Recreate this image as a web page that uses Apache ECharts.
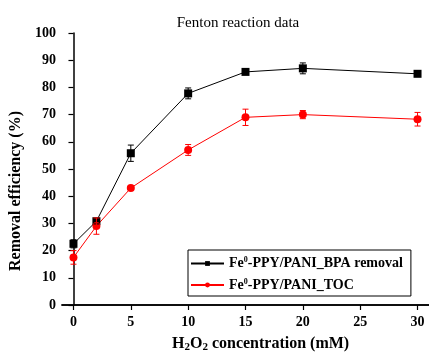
<!DOCTYPE html>
<html>
<head>
<meta charset="utf-8">
<script src="https://cdn.jsdelivr.net/npm/echarts@6/dist/echarts.min.js"></script>
<style>
  html, body { margin: 0; padding: 0; background: #fff; }
  #chart { width: 429px; height: 354px; }
</style>
</head>
<body>
<div id="chart"></div>
<script>
// H2O2 dose (mM) and removal efficiencies (%) with their error half-widths
const doses = [0, 2, 5, 10, 15, 20, 30];
const bpaRemoval = [22.5, 30.8, 55.8, 77.8, 85.7, 87.0, 85.0];
const bpaError = [1.5, 1.0, 3.0, 2.0, 0.6, 2.0, 0.6];
const tocRemoval = [17.5, 29.0, 43.0, 57.0, 69.0, 70.0, 68.3];
const tocError = [2.5, 3.0, 0.6, 2.0, 3.0, 1.5, 2.5];
const xTickValues = [0, 5, 10, 15, 20, 25, 30];
const seriesNames = ['Fe0-PPY/PANI_BPA removal', 'Fe0-PPY/PANI_TOC'];

const font = '"Liberation Serif", "DejaVu Serif", serif';

function pairs(ys) { return doses.map((x, i) => [x, ys[i]]); }
function errRows(ys, es) { return doses.map((x, i) => [x, ys[i] - es[i], ys[i] + es[i]]); }

function errorBars(color) {
  return function (params, api) {
    const x = api.value(0);
    const lo = api.coord([x, api.value(1)]);
    const hi = api.coord([x, api.value(2)]);
    const cap = 3;
    const style = { stroke: color, lineWidth: 1 };
    return {
      type: 'group',
      children: [
        { type: 'line', shape: { x1: lo[0], y1: lo[1], x2: hi[0], y2: hi[1] }, style },
        { type: 'line', shape: { x1: lo[0] - cap, y1: lo[1], x2: lo[0] + cap, y2: lo[1] }, style },
        { type: 'line', shape: { x1: hi[0] - cap, y1: hi[1], x2: hi[0] + cap, y2: hi[1] }, style }
      ]
    };
  };
}

const bold = { fontFamily: font, fontWeight: 'bold', color: '#000' };

const chart = echarts.init(document.getElementById('chart'));
chart.setOption({
  animation: false,
  title: {
    text: 'Fenton reaction data',
    left: 233, top: 11, textAlign: 'center',
    textStyle: { fontFamily: font, fontSize: 15, fontWeight: 'normal', color: '#000' }
  },
  legend: {
    orient: 'vertical',
    left: 188, top: 250,
    padding: [6, 8, 4, 2],
    itemGap: 7,
    itemWidth: 33, itemHeight: 6,
    borderColor: '#000', borderWidth: 1, borderRadius: 0,
    data: seriesNames,
    formatter: function (name) {
      return '{b|Fe}{sup|0}{b|' + name.slice(3) + '}';
    },
    textStyle: Object.assign({ fontSize: 14 }, bold, {
      rich: {
        b: Object.assign({ fontSize: 14 }, bold),
        sup: Object.assign({ fontSize: 8, verticalAlign: 'top', padding: [0, 0, 7, 0] }, bold)
      }
    })
  },
  graphic: [
    {
      type: 'text', left: 8, top: 111,
      rotation: Math.PI / 2,
      style: Object.assign({ text: 'Removal efficiency (%)', fontSize: 16 }, bold)
    },
    {
      type: 'text', left: 172, top: 336,
      style: {
        text: '{t|H}{s|2}{t|O}{s|2}{t| concentration (mM)}',
        rich: {
          t: Object.assign({ fontSize: 16 }, bold),
          s: Object.assign({ fontSize: 11, padding: [7, 0, 0, 0] }, bold)
        }
      }
    }
  ],
  grid: { left: 62, top: 33, right: -2, bottom: 49, show: false },
  xAxis: [{
    type: 'value', min: -1, max: 31,
    axisLine: { show: true, onZero: false, lineStyle: { color: '#000', width: 1.5 } },
    axisTick: { show: true, length: 5, lineStyle: { color: '#000', width: 1.2 }, customValues: xTickValues },
    axisLabel: Object.assign({ fontSize: 14, margin: 10, customValues: xTickValues }, bold),
    splitLine: { show: false }
  }, {
    type: 'value', min: -1, max: 31, position: 'top',
    axisLine: { show: true, lineStyle: { color: '#000', width: 1.5 } },
    axisTick: { show: false }, axisLabel: { show: false }, splitLine: { show: false }
  }],
  yAxis: {
    type: 'value', min: 0, max: 100, interval: 10,
    axisLine: { show: true, lineStyle: { color: '#000', width: 1.5 } },
    axisTick: { show: true, length: 5, lineStyle: { color: '#000', width: 1.2 } },
    axisLabel: Object.assign({ fontSize: 14, margin: 6 }, bold),
    splitLine: { show: false }
  },
  series: [
    {
      name: seriesNames[0], type: 'line', data: pairs(bpaRemoval),
      symbol: 'rect', symbolSize: 8, z: 3,
      itemStyle: { color: '#000' }, lineStyle: { color: '#000', width: 1 }
    },
    {
      name: seriesNames[1], type: 'line', data: pairs(tocRemoval),
      symbol: 'circle', symbolSize: 8, z: 3,
      itemStyle: { color: '#ff0000' }, lineStyle: { color: '#ff0000', width: 1 }
    },
    {
      type: 'custom', data: errRows(bpaRemoval, bpaError),
      renderItem: errorBars('#000'), encode: { x: 0, y: [1, 2] }, z: 4, silent: true
    },
    {
      type: 'custom', data: errRows(tocRemoval, tocError),
      renderItem: errorBars('#ff0000'), encode: { x: 0, y: [1, 2] }, z: 4, silent: true
    }
  ]
});
</script>
</body>
</html>
